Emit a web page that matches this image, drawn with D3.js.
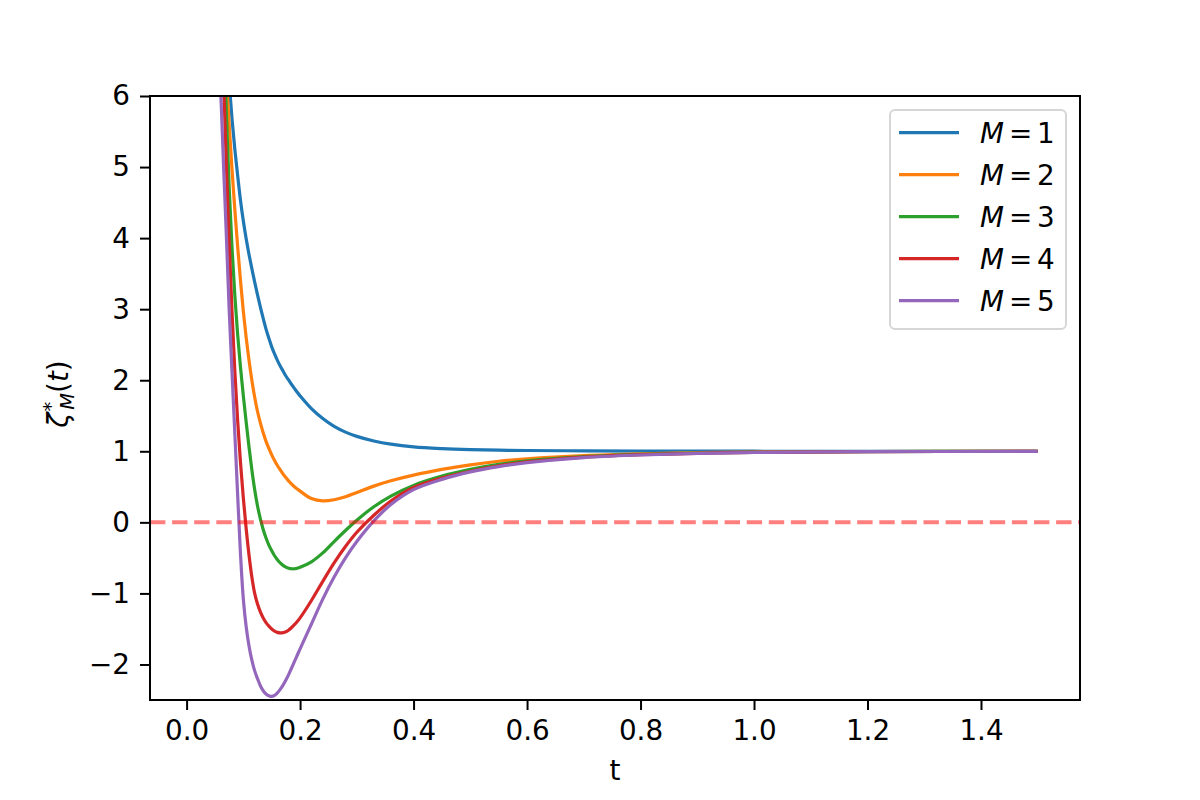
<!DOCTYPE html>
<html lang="en">
    <head>
        <meta charset="utf-8">
        <title>zeta star M</title>
        <script type="text/javascript" src="https://d3js.org/d3.v7.min.js"></script>

        <style type="text/css">
            body {
                margin: 0;
                background-color: white;
            }

            /* tick labels */
            .tick text {
                font-family: "DejaVu Sans", sans-serif;
                font-size: 27.8px;
                fill: black;
            }

            .tick line {
                stroke: black;
                stroke-width: 2px;
            }

            .axis_title {
                font-family: "DejaVu Sans", sans-serif;
                font-size: 27.8px;
                fill: black;
            }

            .legend_labels {
                font-family: "DejaVu Sans", sans-serif;
                font-size: 27.8px;
                fill: black;
            }
        </style>
    </head>

    <body>
        <svg width="1200" height="800" id="svg1"></svg>

        <script type="text/javascript">

            // sample times (t), finer where the curves bend
            const tValues = [0.05, 0.055, 0.06, 0.065, 0.07, 0.075, 0.08, 0.085, 0.09, 0.095,
                             0.10, 0.105, 0.11, 0.115, 0.12, 0.125, 0.13, 0.135, 0.14, 0.145,
                             0.15, 0.155, 0.16, 0.165, 0.17, 0.175, 0.18, 0.185, 0.19, 0.195,
                             0.20, 0.22, 0.24, 0.26, 0.28, 0.30, 0.33, 0.36, 0.40, 0.45,
                             0.50, 0.55, 0.60, 0.70, 0.80, 0.90, 1.00, 1.20, 1.50];

            // one list of values per curve (M = 1 .. 5)
            const m1 = [10.5, 9.4, 8.45, 7.6, 6.85, 6.2, 5.68, 5.25, 4.88, 4.53,
                        4.24, 3.99, 3.77, 3.57, 3.38, 3.2, 3.03, 2.87, 2.72, 2.59,
                        2.47, 2.37, 2.28, 2.2, 2.13, 2.06, 2.0, 1.94, 1.885, 1.83,
                        1.78, 1.6, 1.46, 1.35, 1.27, 1.21, 1.145, 1.1, 1.062, 1.038,
                        1.024, 1.016, 1.011, 1.006, 1.003, 1.002, 1.001, 1.0, 1.0];
            const m2 = [10.2, 9.0, 8.0, 7.1, 6.3, 5.6, 4.97, 4.4, 3.88, 3.4,
                        2.97, 2.6, 2.28, 2.0, 1.76, 1.56, 1.4, 1.26, 1.14, 1.04,
                        0.95, 0.87, 0.8, 0.74, 0.68, 0.63, 0.58, 0.54, 0.5, 0.47,
                        0.44, 0.335, 0.302, 0.318, 0.36, 0.42, 0.51, 0.585, 0.665, 0.745,
                        0.81, 0.86, 0.895, 0.94, 0.965, 0.98, 0.99, 0.997, 1.0];
            const m3 = [11.4, 9.8, 8.35, 7.0, 5.77, 4.72, 3.87, 3.19, 2.64, 2.18,
                        1.78, 1.41, 1.06, 0.74, 0.46, 0.23, 0.05, -0.1, -0.22, -0.32,
                        -0.4, -0.47, -0.525, -0.57, -0.605, -0.63, -0.645, -0.653, -0.653, -0.645,
                        -0.632, -0.555, -0.43, -0.27, -0.115, 0.03, 0.22, 0.37, 0.52, 0.65,
                        0.745, 0.815, 0.865, 0.925, 0.957, 0.975, 0.986, 0.995, 1.0];
            const m4 = [11.2, 9.3, 7.7, 6.25, 5.05, 3.95, 2.97, 2.13, 1.43, 0.84,
                        0.34, -0.09, -0.46, -0.77, -1.0, -1.15, -1.26, -1.345, -1.41, -1.46,
                        -1.5, -1.53, -1.548, -1.555, -1.552, -1.54, -1.515, -1.48, -1.44, -1.395,
                        -1.345, -1.1, -0.83, -0.57, -0.34, -0.14, 0.1, 0.3, 0.49, 0.625,
                        0.72, 0.795, 0.85, 0.918, 0.952, 0.972, 0.984, 0.994, 1.0];
            const m5 = [8.3, 7.15, 6.1, 5.05, 4.05, 3.0, 2.12, 1.25, 0.38, -0.45,
                        -1.08, -1.47, -1.74, -1.94, -2.09, -2.2, -2.3, -2.37, -2.415, -2.44,
                        -2.45, -2.435, -2.4, -2.35, -2.29, -2.22, -2.14, -2.05, -1.96, -1.87,
                        -1.78, -1.43, -1.08, -0.77, -0.5, -0.27, 0.02, 0.25, 0.46, 0.605,
                        0.71, 0.785, 0.84, 0.912, 0.948, 0.97, 0.983, 0.994, 1.0];

            const seriesNames = ["1", "2", "3", "4", "5"];
            const seriesValues = [m1, m2, m3, m4, m5];
            const colors = ["#1f77b4", "#ff7f0e", "#2ca02c", "#d62728", "#9467bd"];

            // tick labels
            const xTicks = [0.0, 0.2, 0.4, 0.6, 0.8, 1.0, 1.2, 1.4];
            const yTicks = [-2, -1, 0, 1, 2, 3, 4, 5, 6];

            const svg = d3.select("#svg1");

            // plot box
            const boxLeft = 150, boxRight = 1080, boxTop = 96, boxBottom = 700;

            const xScale = d3.scaleLinear()
                            .domain([-0.0645, 1.5745])
                            .range([boxLeft, boxRight]);

            const yScale = d3.scaleLinear()
                            .domain([-2.5, 6])
                            .range([boxBottom, boxTop]);

            // clip the curves to the axes box
            svg.append("clipPath")
                .attr("id", "plotclip")
                .append("rect")
                .attr("x", boxLeft)
                .attr("y", boxTop)
                .attr("width", boxRight - boxLeft)
                .attr("height", boxBottom - boxTop);

            const line = d3.line()
                        .x(d => xScale(d[0]))
                        .y(d => yScale(d[1]))
                        .curve(d3.curveCatmullRom.alpha(0.5));

            const plot = svg.append("g").attr("clip-path", "url(#plotclip)");

            seriesValues.forEach(function (vals, i) {
                const pts = tValues.map((t, j) => [t, vals[j]]);
                plot.append("path")
                    .attr("d", line(pts))
                    .attr("fill", "none")
                    .attr("stroke", colors[i])
                    .attr("stroke-width", 3.2);
            });

            // dashed zero line
            plot.append("line")
                .attr("x1", boxLeft)
                .attr("x2", boxRight)
                .attr("y1", yScale(0))
                .attr("y2", yScale(0))
                .attr("stroke", "red")
                .attr("stroke-opacity", 0.5)
                .attr("stroke-width", 4)
                .attr("stroke-dasharray", "15.4,6.7");

            // axes
            const bottomAxis = d3.axisBottom(xScale)
                                .tickValues(xTicks)
                                .tickFormat(d3.format(".1f"))
                                .tickSize(10)
                                .tickPadding(10);
            const leftAxis = d3.axisLeft(yScale)
                                .tickValues(yTicks)
                                .tickFormat(d3.format("d"))
                                .tickSize(10)
                                .tickPadding(10);

            const gx = svg.append("g")
                .attr("transform", `translate(0, ${boxBottom})`)
                .call(bottomAxis);
            gx.select(".domain").remove();

            const gy = svg.append("g")
                .attr("transform", `translate(${boxLeft}, 0)`)
                .call(leftAxis);
            gy.select(".domain").remove();

            // frame
            svg.append("rect")
                .attr("x", boxLeft)
                .attr("y", boxTop)
                .attr("width", boxRight - boxLeft)
                .attr("height", boxBottom - boxTop)
                .attr("fill", "none")
                .attr("stroke", "black")
                .attr("stroke-width", 2);

            // x title
            svg.append("text")
                .attr("class", "axis_title")
                .attr("text-anchor", "middle")
                .attr("x", (boxLeft + boxRight) / 2)
                .attr("y", 780)
                .text("t");

            // y title: zeta*_M(t)
            const ylab = svg.append("text")
                .attr("class", "axis_title")
                .attr("text-anchor", "middle")
                .attr("transform", "translate(68, 394) rotate(-90)");
            ylab.append("tspan").style("font-style", "italic").text("ζ");
            ylab.append("tspan").style("font-size", "19.5px").attr("dx", 1).attr("dy", -11).text("*");
            ylab.append("tspan").style("font-size", "19.5px").style("font-style", "italic")
                .attr("dx", -8).attr("dy", 17).text("M");
            ylab.append("tspan").attr("dy", -6).text("(");
            ylab.append("tspan").style("font-style", "italic").text("t");
            ylab.append("tspan").text(")");

            // legend
            const legend = svg.append("g");
            legend.append("rect")
                .attr("x", 890)
                .attr("y", 110)
                .attr("width", 176)
                .attr("height", 219)
                .attr("rx", 5)
                .attr("fill", "white")
                .attr("fill-opacity", 0.8)
                .attr("stroke", "#cccccc")
                .attr("stroke-opacity", 0.8)
                .attr("stroke-width", 2);

            const rowGap = 42;
            seriesNames.forEach(function (name, i) {
                const yy = 132.7 + i * rowGap;
                legend.append("line")
                    .attr("x1", 899)
                    .attr("x2", 959)
                    .attr("y1", yy)
                    .attr("y2", yy)
                    .attr("stroke", colors[i])
                    .attr("stroke-width", 3.2);
                const lab = legend.append("text")
                    .attr("class", "legend_labels")
                    .attr("y", yy + 10);
                lab.append("tspan").attr("x", 980).style("font-style", "italic").text("M");
                lab.append("tspan").attr("x", 1009).text("=");
                lab.append("tspan").attr("x", 1037).text(name);
            });

        </script>
    </body>
</html>
